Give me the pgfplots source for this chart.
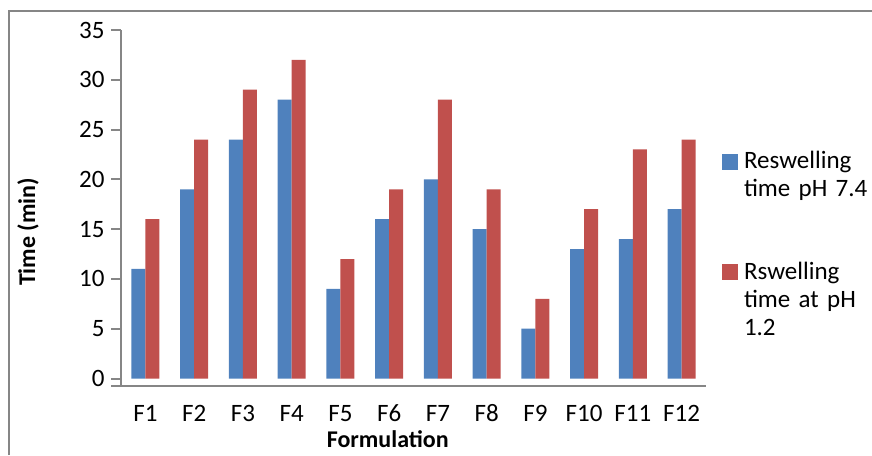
\documentclass[border=0pt]{standalone}
\usepackage{pgfplots}
\pgfplotsset{compat=1.18}
\usepackage{fontspec}
\setmainfont{Carlito}
\definecolor{xlblue}{HTML}{4F81BD}
\definecolor{xlred}{HTML}{C0504D}
\definecolor{axgray}{HTML}{868686}
\begin{document}
\begin{tikzpicture}
\path[use as bounding box] (0,0) rectangle (872pt,455pt);
\draw[axgray, line width=2pt] (9pt,0pt) -- (9pt,444pt) -- (873pt,444pt);
\begin{axis}[
  at={(121pt,69pt)}, anchor=south west,
  scale only axis, width=585pt, height=356pt,
  ybar=0pt, bar width=14pt,
  xmin=-0.5, xmax=11.5, ymin=-0.75, ymax=35,
  xtick=data,
  xticklabels={F1,F2,F3,F4,F5,F6,F7,F8,F9,F10,F11,F12},
  ytick={0,5,10,15,20,25,30,35},
  axis lines=left,
  axis line style={-, axgray, line width=2pt},
  x axis line style={shorten <=-10pt},
  xtick style={draw=none},
  ytick style={axgray, line width=2pt},
  tick align=outside, major tick length=10pt,
  /pgf/number format/assume math mode=true,
  tick label style={font=\fontsize{25}{30}\selectfont},
  xticklabel style={anchor=base, yshift=-25pt},
  yticklabel style={anchor=east, xshift=-3pt},
  xlabel={\textbf{Formulation}},
  ylabel={\textbf{Time (min)}},
  label style={font=\fontsize{24}{28}\selectfont},
  xlabel style={at={(axis description cs:0.456,-0.174)}, anchor=base},
  ylabel style={at={(axis description cs:-0.159,0.433)}, anchor=center},
  legend style={draw=none, fill=none, at={(axis description cs:1.027,0.66)}, anchor=north west,
    font=\fontsize{25}{28}\selectfont, row sep=92pt, inner sep=0pt,
    cells={anchor=base west}, nodes={text width=140pt, align=left, inner sep=0pt}, column sep=6pt},
  legend image code/.code={\path[#1, draw=none] (0pt,-1pt) rectangle (16pt,15pt);},
]
\addplot[fill=xlblue, draw=none] coordinates {(0,11) (1,19) (2,24) (3,28) (4,9) (5,16) (6,20) (7,15) (8,5) (9,13) (10,14) (11,17)};
\addplot[fill=xlred, draw=none] coordinates {(0,16) (1,24) (2,29) (3,32) (4,12) (5,19) (6,28) (7,19) (8,8) (9,17) (10,23) (11,24)};
\legend{{Reswelling\\time pH 7.4},{Rswelling\\time at pH\\1.2}}
\end{axis}
\end{tikzpicture}
\end{document}
